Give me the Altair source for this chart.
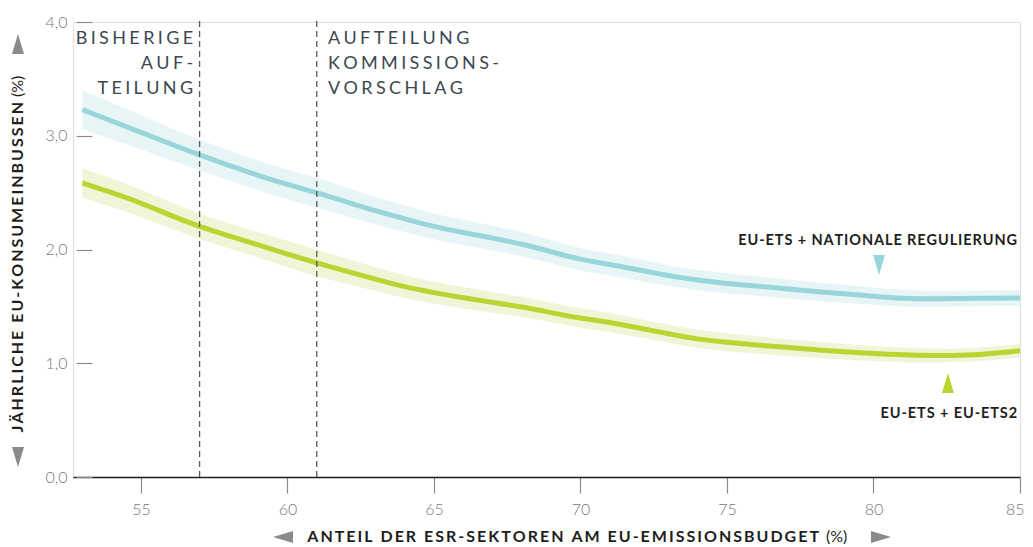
import altair as alt
import pandas as pd

# ---------------- data ----------------
x_share = [53, 54, 55, 56, 57, 58, 59, 60, 61, 62, 63, 64, 65, 66, 67, 68, 69,
           70, 71, 72, 73, 74, 75, 76, 77, 78, 79, 80, 81, 82, 83, 84, 85]

# EU-ETS + nationale Regulierung
nat_mid = [3.23, 3.13, 3.03, 2.93, 2.83, 2.74, 2.65, 2.57, 2.50, 2.42, 2.34, 2.27, 2.20,
           2.15, 2.10, 2.05, 1.98, 1.91, 1.87, 1.82, 1.77, 1.73, 1.70, 1.68, 1.655, 1.63,
           1.61, 1.59, 1.57, 1.565, 1.57, 1.572, 1.573]
nat_hi = [3.40, 3.29, 3.18, 3.07, 2.965, 2.87, 2.78, 2.70, 2.63, 2.545, 2.46, 2.385, 2.315,
          2.26, 2.21, 2.155, 2.08, 2.01, 1.965, 1.915, 1.86, 1.82, 1.79, 1.765, 1.74, 1.71,
          1.69, 1.665, 1.645, 1.635, 1.64, 1.642, 1.643]
nat_lo = [3.06, 2.97, 2.88, 2.79, 2.695, 2.61, 2.52, 2.44, 2.37, 2.295, 2.22, 2.155, 2.085,
          2.04, 1.99, 1.945, 1.88, 1.81, 1.775, 1.725, 1.68, 1.64, 1.61, 1.595, 1.57, 1.55,
          1.53, 1.515, 1.495, 1.495, 1.50, 1.502, 1.503]

# EU-ETS + EU-ETS2
ets2_mid = [2.585, 2.50, 2.41, 2.30, 2.20, 2.12, 2.04, 1.96, 1.88, 1.81, 1.74, 1.67, 1.62,
            1.575, 1.535, 1.497, 1.445, 1.395, 1.36, 1.31, 1.26, 1.21, 1.185, 1.16, 1.14,
            1.12, 1.10, 1.085, 1.073, 1.067, 1.067, 1.085, 1.11]
ets2_hi = [2.715, 2.625, 2.53, 2.415, 2.31, 2.23, 2.15, 2.075, 2.00, 1.92, 1.845, 1.77, 1.715,
           1.67, 1.625, 1.587, 1.53, 1.48, 1.445, 1.39, 1.34, 1.29, 1.265, 1.235, 1.215,
           1.19, 1.17, 1.15, 1.138, 1.127, 1.127, 1.145, 1.17]
ets2_lo = [2.455, 2.375, 2.29, 2.185, 2.09, 2.01, 1.93, 1.845, 1.76, 1.70, 1.635, 1.57, 1.525,
           1.48, 1.445, 1.407, 1.36, 1.31, 1.275, 1.23, 1.18, 1.13, 1.105, 1.085, 1.065,
           1.05, 1.03, 1.02, 1.008, 1.007, 1.007, 1.025, 1.05]

series_names = ["EU-ETS + NATIONALE REGULIERUNG", "EU-ETS + EU-ETS2"]
line_colors = ["#98d6da", "#b9d531"]
band_colors = ["#e8f5f6", "#eff5d6"]

x_ticks = [55, 60, 65, 70, 75, 80, 85]
y_ticks = [0, 1, 2, 3, 4]
split_lines = [57, 61]

# ---------------- tables ----------------
rows = []
for i, x in enumerate(x_share):
    rows.append({"x": x, "s": series_names[0], "y": nat_mid[i], "lo": nat_lo[i], "hi": nat_hi[i]})
    rows.append({"x": x, "s": series_names[1], "y": ets2_mid[i], "lo": ets2_lo[i], "hi": ets2_hi[i]})
df = pd.DataFrame(rows)


def track(s, sp="\u2009"):
    return sp.join(list(s))


FONT = "Lato"
DARK = "#1e1e1c"
GREY = "#8a8a8a"

xscale = alt.Scale(domain=[52.68, 85], nice=False, zero=False)
yscale = alt.Scale(domain=[0, 4], nice=False, zero=True)

xaxis = alt.Axis(values=x_ticks, title=None, grid=False, domainColor=DARK, domainWidth=1.5,
                 tickColor=GREY, tickSize=16, tickWidth=1.2, labelPadding=8,
                 labelColor="#777777", labelFont=FONT, labelFontSize=16, labelFontWeight=300,
                 labelFlush=True, labelFlushOffset=4)
yaxis = alt.Axis(values=y_ticks, title=None, grid=False, domain=False, offset=-19,
                 tickColor=GREY, tickSize=16, tickWidth=1.2, labelPadding=9,
                 labelColor="#777777", labelFont=FONT, labelFontSize=16, labelFontWeight=300,
                 labelExpr="replace(format(datum.value, '.1f'), '.', ',')")

X = alt.X("x:Q", scale=xscale, axis=xaxis)
Y = alt.Y("y:Q", scale=yscale, axis=yaxis)
color_fill = alt.Color("s:N", scale=alt.Scale(domain=series_names, range=band_colors), legend=None)
color_line = alt.Color("s:N", scale=alt.Scale(domain=series_names, range=line_colors), legend=None)

base = alt.Chart(df)
bands = base.mark_area(opacity=1, interpolate="basis").encode(
    x=X, y=alt.Y("lo:Q", scale=yscale, axis=yaxis), y2="hi:Q", color=color_fill, detail="s:N")
lines = base.mark_line(strokeWidth=5, interpolate="basis").encode(
    x=X, y=Y, color=color_line, detail="s:N")

# vertical dashed split lines
vdf = pd.DataFrame({"x": split_lines, "y": [0, 0], "y2": [4.02, 4.02]})
vlines = alt.Chart(vdf).mark_rule(color="#555a5e", strokeWidth=1.3, strokeDash=[6, 4]).encode(
    x=X, y=Y, y2="y2:Q")

# split annotations
SP = "\u2009\u200a"
ann = pd.DataFrame({
    "x": [56.78, 56.78, 56.78, 61.38, 61.38, 61.38],
    "y": [3.81, 3.59, 3.37, 3.81, 3.59, 3.37],
    "t": [track("BISHERIGE", SP), track("AUF-", SP), track("TEILUNG", SP),
          track("AUFTEILUNG", SP), track("KOMMISSIONS-", SP), track("VORSCHLAG", SP)],
    "a": ["right", "right", "right", "left", "left", "left"],
})
ann_style = dict(baseline="alphabetic", font=FONT, fontSize=18, fontWeight="normal", color="#3b4850")
ann_r = alt.Chart(ann[ann.a == "right"]).mark_text(align="right", **ann_style).encode(
    x=X, y=Y, text="t:N")
ann_l = alt.Chart(ann[ann.a == "left"]).mark_text(align="left", **ann_style).encode(
    x=X, y=Y, text="t:N")

# series labels and markers
lab = pd.DataFrame({"x": [84.9, 84.9], "y": [2.04, 0.52],
                    "t": [track(series_names[0], "\u200a"), track(series_names[1], "\u200a")]})
labels = alt.Chart(lab).mark_text(align="right", baseline="alphabetic", font=FONT, fontSize=14.5,
                                  fontWeight="bold", color=DARK).encode(x=X, y=Y, text="t:N")
TRI_DOWN = "M-0.6,-1L0.6,-1L0,1Z"
TRI_UP = "M-0.6,1L0.6,1L0,-1Z"
TRI_LEFT = "M1,-0.6L1,0.6L-1,0Z"
TRI_RIGHT = "M-1,-0.6L-1,0.6L1,0Z"
m1 = alt.Chart(pd.DataFrame({"x": [80.19], "y": [1.864]})).mark_point(
    shape=TRI_DOWN, size=400, filled=True, opacity=1, color=line_colors[0], strokeWidth=0
).encode(x=X, y=Y)
m2 = alt.Chart(pd.DataFrame({"x": [82.54], "y": [0.826]})).mark_point(
    shape=TRI_UP, size=400, filled=True, opacity=1, color=line_colors[1], strokeWidth=0
).encode(x=X, y=Y)

# axis titles (pixel placed, relative to plot origin)
one = pd.DataFrame({"k": [0]})
XT_Y = 515
ytitle_b = alt.Chart(one).mark_text(angle=270, align="right", baseline="middle", font=FONT,
                                    fontSize=16, fontWeight="bold", color=DARK).encode(
    x=alt.value(-55), y=alt.value(80), text=alt.value(track("JÄHRLICHE EU-KONSUMEINBUSSEN")))
ytitle_p = alt.Chart(one).mark_text(angle=270, align="left", baseline="middle", font=FONT,
                                    fontSize=16, fontWeight="normal", color=DARK).encode(
    x=alt.value(-55), y=alt.value(75), text=alt.value("(%)"))
xtitle_b = alt.Chart(one).mark_text(align="right", baseline="middle", font=FONT, fontSize=16,
                                    fontWeight="bold", color=DARK).encode(
    x=alt.value(746), y=alt.value(XT_Y), text=alt.value(track("ANTEIL DER ESR-SEKTOREN AM EU-EMISSIONSBUDGET")))
xtitle_p = alt.Chart(one).mark_text(align="left", baseline="middle", font=FONT, fontSize=16,
                                    fontWeight="normal", color=DARK).encode(
    x=alt.value(753), y=alt.value(XT_Y), text=alt.value("(%)"))
tri_style = dict(size=400, filled=True, opacity=1, color=GREY, strokeWidth=0)
t_up = alt.Chart(one).mark_point(shape=TRI_UP, **tri_style).encode(x=alt.value(-55), y=alt.value(22))
t_down = alt.Chart(one).mark_point(shape=TRI_DOWN, **tri_style).encode(x=alt.value(-55), y=alt.value(435))
t_left = alt.Chart(one).mark_point(shape=TRI_LEFT, **tri_style).encode(x=alt.value(210), y=alt.value(XT_Y))
t_right = alt.Chart(one).mark_point(shape=TRI_RIGHT, **tri_style).encode(x=alt.value(808), y=alt.value(XT_Y))

chart = alt.layer(
    bands, lines, vlines, ann_r, ann_l, labels, m1, m2,
    ytitle_b, ytitle_p, xtitle_b, xtitle_p, t_up, t_down, t_left, t_right
).resolve_scale(color="independent").properties(
    width=947, height=455,
    autosize=alt.AutoSizeParams(type="none"),
    padding={"left": 65, "top": 14, "right": 5, "bottom": 67},
).configure_view(stroke=None).configure(background="white")

chart.save("out.html", embed_options={"renderer": "svg", "actions": False})
